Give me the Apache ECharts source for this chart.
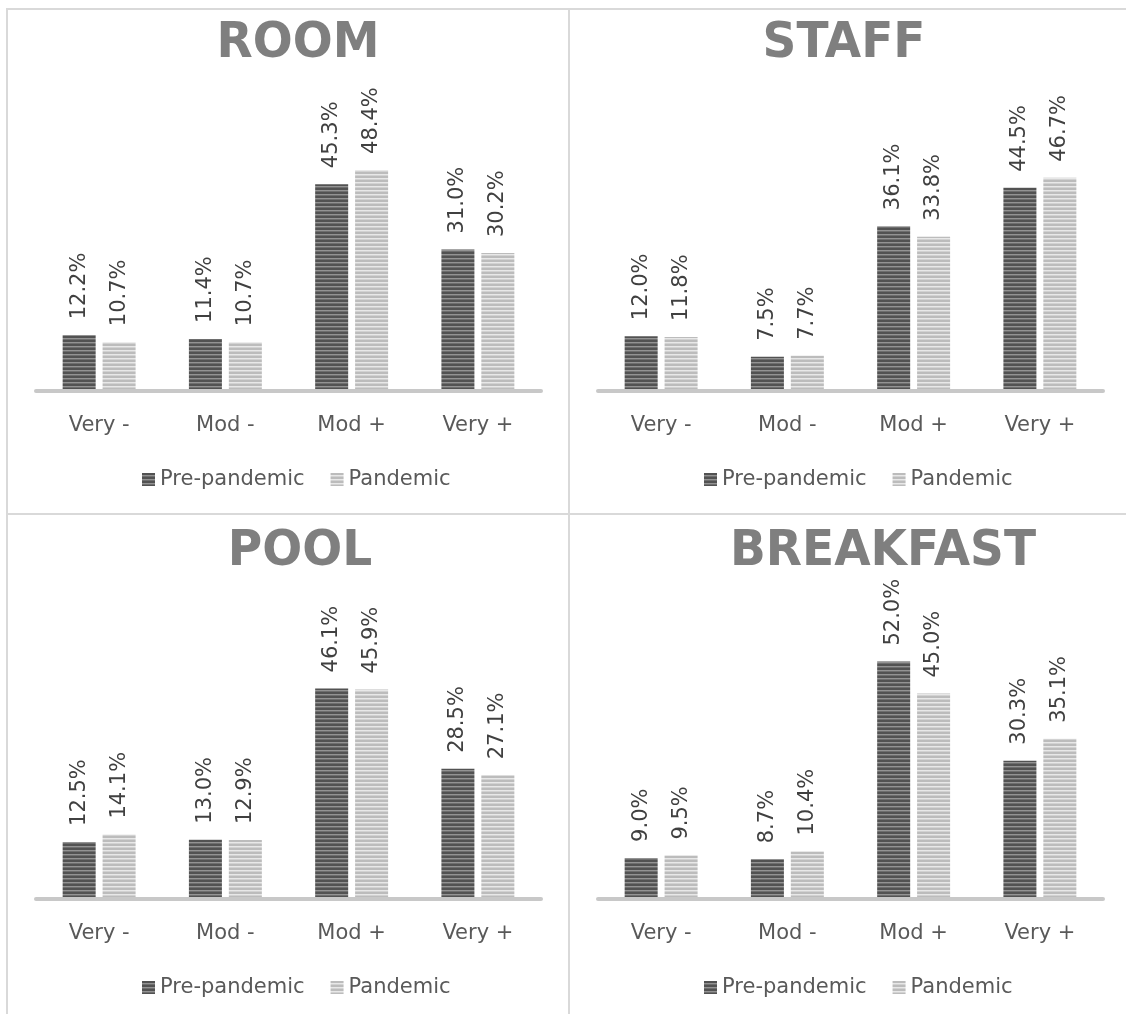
<!DOCTYPE html>
<html>
<head>
<meta charset="utf-8">
<script src="https://cdn.jsdelivr.net/npm/echarts@6/dist/echarts.min.js"></script>
<style>
  html, body { margin: 0; padding: 0; background: #ffffff; }
  #chart { width: 1126px; height: 1014px; }
</style>
</head>
<body>
<div id="chart"></div>
<script>
// Satisfaction ratings, share of reviews (%) per rating level
const categories = ['Very -', 'Mod -', 'Mod +', 'Very +'];
const seriesNames = ['Pre-pandemic', 'Pandemic'];
const panelTitles = ['ROOM', 'STAFF', 'POOL', 'BREAKFAST'];

const roomPre = [12.2, 11.4, 45.3, 31.0];
const roomPandemic = [10.7, 10.7, 48.4, 30.2];
const staffPre = [12.0, 7.5, 36.1, 44.5];
const staffPandemic = [11.8, 7.7, 33.8, 46.7];
const poolPre = [12.5, 13.0, 46.1, 28.5];
const poolPandemic = [14.1, 12.9, 45.9, 27.1];
const breakfastPre = [9.0, 8.7, 52.0, 30.3];
const breakfastPandemic = [9.5, 10.4, 45.0, 35.1];

const panelData = [
  [roomPre, roomPandemic],
  [staffPre, staffPandemic],
  [poolPre, poolPandemic],
  [breakfastPre, breakfastPandemic]
];

// Horizontal-stripe fills for the two series
function stripePattern(rows) {
  const c = document.createElement('canvas');
  c.width = 4;
  c.height = rows.length;
  const ctx = c.getContext('2d');
  rows.forEach((col, i) => {
    ctx.fillStyle = col;
    ctx.fillRect(0, i, 4, 1);
  });
  return { image: c, repeat: 'repeat' };
}
const darkFill = stripePattern(['#525252', '#525252', '#939393', '#6e6e6e']);
const lightFill = stripePattern(['#bcbcbc', '#bcbcbc', '#e8e8e8', '#d2d2d2']);
const fills = [darkFill, lightFill];

// Panel layout: 2 x 2 cells
const PANEL_W = 562;
const origins = [[7, 8], [569, 8], [7, 516], [569, 516]];
// Horizontal centre of each panel heading, relative to its cell
const titleCentres = [291, 275, 293, 314];
const FONT = '"DejaVu Sans", Verdana, sans-serif';

const grids = [], xAxes = [], yAxes = [], series = [], legends = [], graphics = [];

origins.forEach(([ox, oy], p) => {
  grids.push({ left: ox + 29, top: oy + 109, width: 505, height: 274 });
  xAxes.push({
    type: 'category',
    gridIndex: p,
    data: categories,
    z: 3,
    axisLine: { lineStyle: { color: '#c8c8c8', width: 4 } },
    axisTick: { show: false },
    axisLabel: { color: '#595959', fontSize: 21, fontFamily: FONT, margin: 24 }
  });
  yAxes.push({
    type: 'value',
    gridIndex: p,
    min: 0,
    max: 60,
    show: false,
    splitLine: { show: false }
  });
  panelData[p].forEach((values, s) => {
    series.push({
      type: 'bar',
      name: seriesNames[s],
      xAxisIndex: p,
      yAxisIndex: p,
      data: values,
      barWidth: 33,
      barGap: '21%',
      itemStyle: { color: fills[s] },
      label: {
        show: true,
        position: 'top',
        rotate: 90,
        align: 'left',
        verticalAlign: 'middle',
        distance: 16,
        color: '#404040',
        fontSize: 21,
        fontFamily: FONT,
        formatter: (d) => d.value.toFixed(1) + '%'
      }
    });
  });
  legends.push({
    data: seriesNames,
    left: ox + 130,
    top: oy + 456,
    orient: 'horizontal',
    icon: 'rect',
    itemWidth: 13,
    itemHeight: 13,
    itemGap: 26,
    selectedMode: false,
    textStyle: { color: '#595959', fontSize: 21, fontFamily: FONT }
  });
  graphics.push({
    type: 'text',
    x: ox + titleCentres[p],
    y: oy + 36,
    scaleX: 0.94,
    style: {
      text: panelTitles[p],
      fontSize: 50,
      fontWeight: 'bold',
      fontFamily: FONT,
      fill: '#7f7f7f',
      align: 'center',
      verticalAlign: 'middle'
    }
  });
});

// Cell borders
const BORDER = { stroke: '#d9d9d9', lineWidth: 2 };
[
  [6, 9, 1126, 9],
  [7, 8, 7, 1014],
  [569, 8, 569, 1014],
  [7, 514, 1126, 514]
].forEach(([x1, y1, x2, y2]) => {
  graphics.push({ type: 'line', shape: { x1, y1, x2, y2 }, style: BORDER, silent: true });
});

const chart = echarts.init(document.getElementById('chart'), null, { renderer: 'canvas' });

chart.setOption({
  animation: false,
  backgroundColor: '#ffffff',
  grid: grids,
  xAxis: xAxes,
  yAxis: yAxes,
  series: series,
  legend: legends,
  graphic: graphics
});
</script>
</body>
</html>
